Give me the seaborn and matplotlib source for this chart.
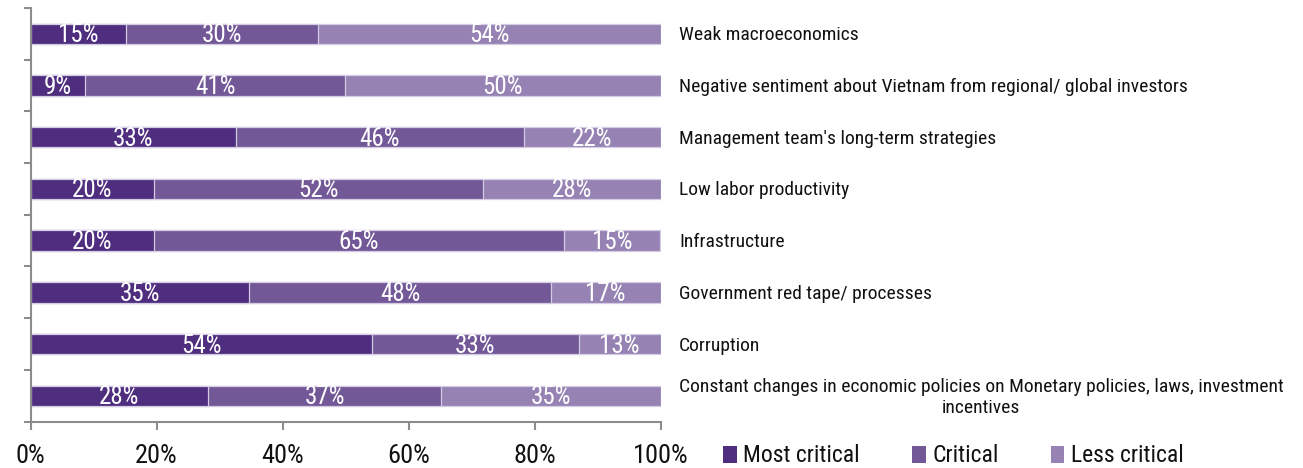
import matplotlib
matplotlib.use("Agg")
import matplotlib.pyplot as plt
import matplotlib.transforms as mtransforms
from matplotlib import font_manager
from matplotlib.patches import Patch
import seaborn as sns
import pandas as pd

# Survey results: share of respondents rating each obstacle (percent, rows sum to 100)
categories = [
    "Weak macroeconomics",
    "Negative sentiment about Vietnam from regional/ global investors",
    "Management team's long-term strategies",
    "Low labor productivity",
    "Infrastructure",
    "Government red tape/ processes",
    "Corruption",
    "Constant changes in economic policies on Monetary policies, laws, investment\nincentives",
]
most_critical = [15.2, 8.7, 32.6, 19.6, 19.6, 34.7, 54.2, 28.2]
critical = [30.4, 41.2, 45.7, 52.2, 65.1, 47.9, 32.8, 37.0]
less_critical = [54.4, 50.1, 21.7, 28.2, 15.3, 17.4, 13.0, 34.8]
series_names = ["Most critical", "Critical", "Less critical"]
x_ticks = [0, 20, 40, 60, 80, 100]
x_tick_labels = ["0%", "20%", "40%", "60%", "80%", "100%"]

colors = ["#4F2D7F", "#735898", "#9682B3"]
edge = "#D4CCE3"
axis_grey = "#8C8C8C"
text_color = "#111111"

sns.set_theme(style="white")
available = {f.name for f in font_manager.fontManager.ttflist}
narrow = next((n for n in ["Liberation Sans Narrow", "Roboto Condensed", "Archivo Narrow"]
               if n in available), "Liberation Sans")
plt.rcParams["font.family"] = [narrow, "DejaVu Sans"]

W, H = 1303, 468
fig = plt.figure(figsize=(W / 100, H / 100), dpi=100)
left_px, right_px, top_px, bottom_px = 30.5, 660.5, 7.9, 421.6
ax = fig.add_axes([left_px / W, 1 - bottom_px / H,
                   (right_px - left_px) / W, (bottom_px - top_px) / H])

series = [most_critical, critical, less_critical]
df = pd.DataFrame({"category": categories,
                   series_names[0]: most_critical,
                   series_names[1]: critical,
                   series_names[2]: less_critical})

# Stacked bars: draw cumulative totals from the longest to the shortest
cum = df[series_names].cumsum(axis=1).assign(category=df["category"])
for name, col in reversed(list(zip(series_names, colors))):
    sns.barplot(data=cum, x=name, y="category",
                orient="h", color=col, saturation=1, width=0.395,
                edgecolor=edge, linewidth=0.9, errorbar=None, ax=ax)

# Percentage labels in each segment
for i in range(len(categories)):
    start = 0.0
    for vals in series:
        v = vals[i]
        ax.text(start + v / 2, i + 0.03, f"{v:.0f}%", ha="center", va="center",
                color="white", fontsize=18)
        start += v

# Category names to the right of the bars
trans = mtransforms.blended_transform_factory(ax.transAxes, ax.transData)
for i, cat in enumerate(categories):
    ax.text(1.0294, i + 0.03, cat, transform=trans, ha="left", va="center",
            fontsize=14, multialignment="center", color=text_color, linespacing=1.2)

ax.set_xlim(0, 100)
ax.set_ylim(len(categories) - 0.5, -0.5)
ax.set_xticks(x_ticks)
ax.set_xticklabels(x_tick_labels)
ax.set_yticks([i - 0.5 for i in range(len(categories) + 1)])
ax.set_yticklabels([])
ax.set_xlabel("")
ax.set_ylabel("")

for s in ["top", "right"]:
    ax.spines[s].set_visible(False)
for s in ["left", "bottom"]:
    ax.spines[s].set_color(axis_grey)
    ax.spines[s].set_linewidth(1.5)

ax.tick_params(axis="x", direction="out", length=6, width=1.5, color=axis_grey,
               labelsize=19, pad=10, labelcolor=text_color, bottom=True)
ax.tick_params(axis="y", direction="out", length=5, width=1.5, color=axis_grey, left=True)

handles = [Patch(facecolor=c, edgecolor="none") for c in colors]
fig.legend(handles, series_names, loc="center left",
           bbox_to_anchor=(723 / W, 1 - 456 / H), ncol=3, frameon=False,
           fontsize=17, handlelength=0.58, handleheight=0.72, handletextpad=0.28,
           columnspacing=2.2, borderaxespad=0, borderpad=0, labelcolor=text_color)

fig.savefig("out.png", dpi=100)
